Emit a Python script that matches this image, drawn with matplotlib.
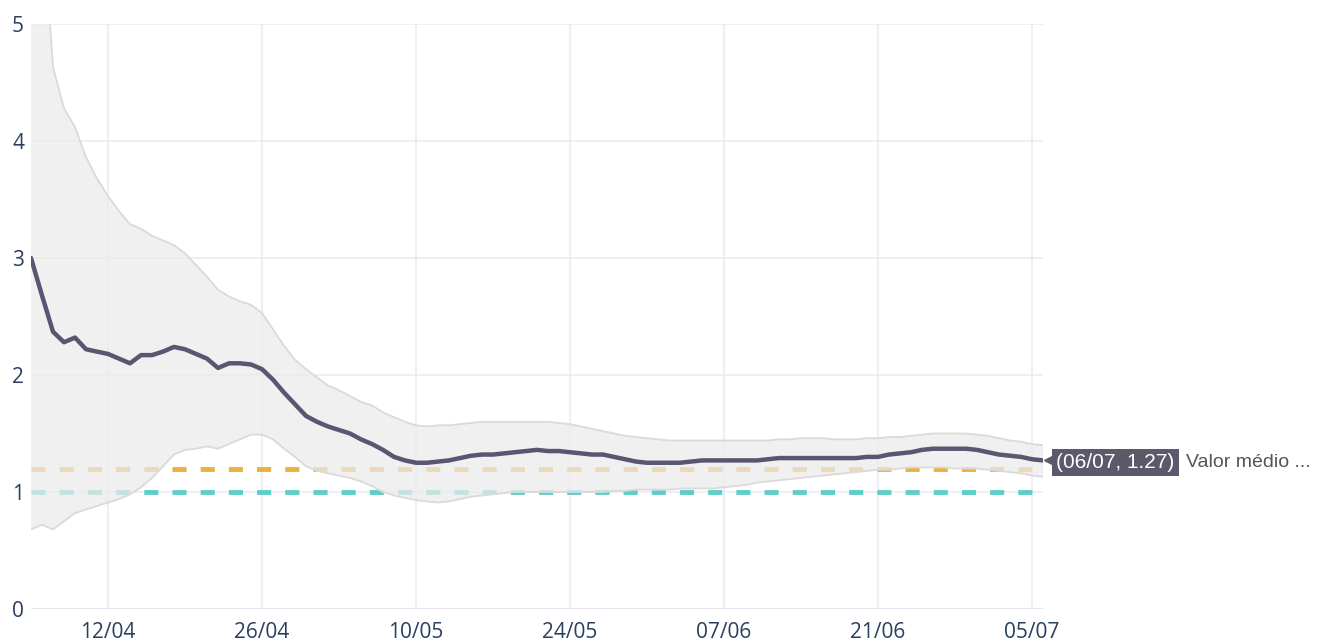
import matplotlib
matplotlib.use("Agg")
import matplotlib.pyplot as plt
import matplotlib.dates as mdates
import matplotlib.transforms as mtransforms
import pandas as pd

# daily values 05/04 .. 06/07
dates = pd.date_range("2020-04-05", "2020-07-06", freq="D")

mean_rt = [
    3.00, 2.68, 2.37, 2.28, 2.32, 2.22, 2.20, 2.18, 2.14, 2.10,
    2.17, 2.17, 2.20, 2.24, 2.22, 2.18, 2.14, 2.06, 2.10, 2.10,
    2.09, 2.05, 1.96, 1.85, 1.75, 1.65, 1.60, 1.56, 1.53, 1.50,
    1.45, 1.41, 1.36, 1.30, 1.27, 1.25, 1.25, 1.26, 1.27, 1.29,
    1.31, 1.32, 1.32, 1.33, 1.34, 1.35, 1.36, 1.35, 1.35, 1.34,
    1.33, 1.32, 1.32, 1.30, 1.28, 1.26, 1.25, 1.25, 1.25, 1.25,
    1.26, 1.27, 1.27, 1.27, 1.27, 1.27, 1.27, 1.28, 1.29, 1.29,
    1.29, 1.29, 1.29, 1.29, 1.29, 1.29, 1.30, 1.30, 1.32, 1.33,
    1.34, 1.36, 1.37, 1.37, 1.37, 1.37, 1.36, 1.34, 1.32, 1.31,
    1.30, 1.28, 1.27,
]

upper_rt = [
    8.00, 6.00, 4.63, 4.28, 4.12, 3.86, 3.68, 3.53, 3.40, 3.29,
    3.25, 3.19, 3.15, 3.11, 3.04, 2.94, 2.84, 2.73, 2.67, 2.63,
    2.60, 2.53, 2.39, 2.25, 2.13, 2.05, 1.98, 1.91, 1.87, 1.82,
    1.77, 1.74, 1.68, 1.64, 1.60, 1.57, 1.56, 1.57, 1.57, 1.58,
    1.59, 1.60, 1.60, 1.60, 1.60, 1.60, 1.60, 1.60, 1.59, 1.58,
    1.56, 1.54, 1.52, 1.50, 1.48, 1.47, 1.46, 1.45, 1.44, 1.44,
    1.44, 1.44, 1.44, 1.44, 1.44, 1.44, 1.44, 1.44, 1.45, 1.45,
    1.46, 1.46, 1.46, 1.45, 1.45, 1.45, 1.46, 1.46, 1.47, 1.47,
    1.48, 1.49, 1.50, 1.50, 1.50, 1.50, 1.49, 1.48, 1.46, 1.44,
    1.43, 1.41, 1.40,
]

lower_rt = [
    0.68, 0.72, 0.68, 0.75, 0.82, 0.85, 0.88, 0.91, 0.94, 0.98,
    1.04, 1.12, 1.22, 1.32, 1.36, 1.37, 1.39, 1.37, 1.41, 1.45,
    1.49, 1.49, 1.45, 1.37, 1.30, 1.22, 1.18, 1.16, 1.14, 1.12,
    1.09, 1.05, 1.00, 0.97, 0.95, 0.93, 0.92, 0.91, 0.92, 0.94,
    0.96, 0.97, 0.98, 0.99, 1.00, 1.00, 1.00, 1.00, 1.00, 1.00,
    1.00, 1.00, 1.00, 1.01, 1.01, 1.02, 1.02, 1.02, 1.02, 1.03,
    1.03, 1.03, 1.03, 1.04, 1.05, 1.06, 1.08, 1.09, 1.10, 1.11,
    1.12, 1.13, 1.14, 1.15, 1.16, 1.17, 1.18, 1.19, 1.19, 1.20,
    1.21, 1.21, 1.21, 1.21, 1.20, 1.20, 1.20, 1.19, 1.18, 1.17,
    1.16, 1.14, 1.13,
]

ref_orange = 1.2
ref_teal = 1.0
yticks = [0, 1, 2, 3, 4, 5]
xtick_dates = pd.date_range("2020-04-12", "2020-07-05", freq="14D")

plt.rcParams['font.family'] = ['Open Sans', 'DejaVu Sans']
tip_font = ["Liberation Sans", "DejaVu Sans"]

fig = plt.figure(figsize=(13.19, 6.44), dpi=100)
ax = fig.add_axes([31 / 1319, 35 / 644, (1043 - 31) / 1319, (609 - 24) / 644])

# reference lines (under the band)
ax.plot([dates[0], dates[-1]], [ref_orange, ref_orange], color="#eab040",
        lw=3.5, dashes=(2.9, 2.9), zorder=2, solid_capstyle="butt")
ax.plot([dates[0], dates[-1]], [ref_teal, ref_teal], color="#5fcdc8",
        lw=3.5, dashes=(2.9, 2.9), zorder=2, solid_capstyle="butt")

# credible interval
ax.fill_between(dates, lower_rt, upper_rt, facecolor="#ebebeb", alpha=0.72,
                edgecolor="none", zorder=3)
ax.plot(dates, upper_rt, color="#dadada", lw=1.3, zorder=3)
ax.plot(dates, lower_rt, color="#dadada", lw=1.3, zorder=3)

# mean Rt
ax.plot(dates, mean_rt, color="#585670", lw=3.2, zorder=4,
        solid_joinstyle="round", solid_capstyle="round")

ax.set_ylim(0, 5)
ax.set_xlim(dates[0], dates[-1])
ax.set_yticks(yticks)
ax.set_xticks(xtick_dates)
ax.xaxis.set_major_formatter(mdates.DateFormatter("%d/%m"))

for s in ax.spines.values():
    s.set_visible(False)
ax.grid(True, color="#ebebf0", lw=1.1, zorder=0)
ax.set_axisbelow(True)
ax.axhline(0, color="#e4e4ea", lw=2.2, zorder=1)
ax.tick_params(axis="both", length=0, labelsize=15, colors="#2a3f5f")
ax.tick_params(axis="y", pad=5)
ax.tick_params(axis="x", pad=9)

# hover label on the last point
last_x = dates[-1]
last_y = mean_rt[-1]
tip = "(%s, %.2f)" % (last_x.strftime("%d/%m"), last_y)
ax.annotate(tip, xy=(last_x, last_y), xytext=(9.5, -1.5), textcoords="offset points",
            ha="left", va="center", color="white", fontsize=15, family=tip_font,
            bbox=dict(boxstyle="square,pad=0.2", fc="#5b5a6b", ec="none"),
            annotation_clip=False, zorder=6)
arrow_tr = mtransforms.offset_copy(ax.transData, fig=fig, x=5, y=0, units="points")
ax.plot([last_x], [last_y], marker="<", color="#5b5a6b", markersize=8,
        transform=arrow_tr, clip_on=False, zorder=6)
ax.annotate("Valor médio ...", xy=(last_x, last_y), xytext=(103, -1.5),
            textcoords="offset points", ha="left", va="center", color="#555555",
            fontsize=14, family=tip_font, annotation_clip=False)

fig.savefig("out.png", dpi=100, facecolor="white")
